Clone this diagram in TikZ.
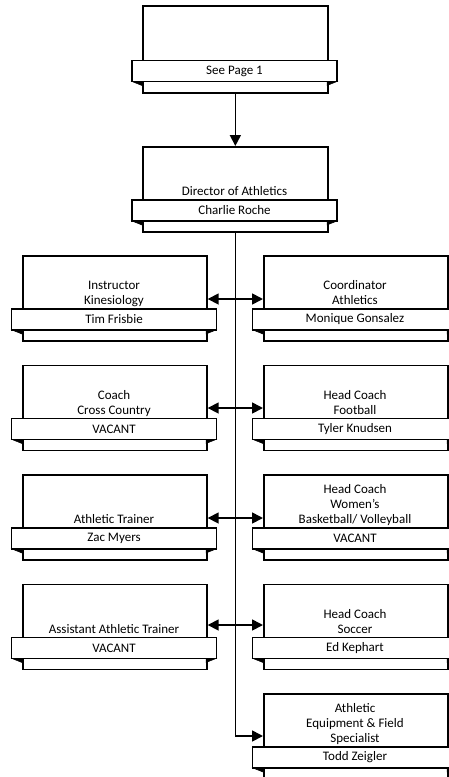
\documentclass[tikz,border=0pt]{standalone}
\usepackage{fontspec}
\setmainfont{Carlito}
\usetikzlibrary{arrows.meta}
\tikzset{
  unitbox/.style={draw=black, line width=1.7pt, fill=white, minimum width=184pt, minimum height=85pt, inner sep=0pt, anchor=north west},
  banner/.style={draw=black, line width=1.5pt, fill=white, minimum width=205pt, minimum height=21pt, inner sep=0pt, font=\fontsize{13}{15}\selectfont},
  titletext/.style={anchor=south, inner sep=0pt, text depth=3.5pt, align=center, font=\fontsize{13}{15}\selectfont},
  link/.style={line width=1.7pt, -{Triangle[length=11pt,width=11pt]}},
  duo/.style={line width=1.7pt, {Triangle[length=11pt,width=11pt]}-{Triangle[length=11pt,width=11pt]}},
  fold/.style={fill=black, draw=black, line width=0.5pt, line join=miter}
}
% name, x, y (top-left), box width, title, person
\newcommand\orgunit[6]{%
  \node[unitbox, minimum width=#4pt] (#1) at (#2,#3) {};
  \node[banner] (#1b) at (#2+#4/2,#3+64.5) {#6};
  \fill[fold] (#2-10,#3+75) -- (#2,#3+75) -- (#2,#3+79) -- cycle;
  \fill[fold] (#2+#4+10,#3+75) -- (#2+#4,#3+75) -- (#2+#4,#3+79) -- cycle;
  \node[titletext] (#1t) at (#1b.north) {#5};
}
\begin{document}
\begin{tikzpicture}[x=1pt,y=-1pt]
  \useasboundingbox (0,0) rectangle (449,777);
  \clip (0,0) rectangle (449,777);
  % top box
  \node[unitbox, minimum width=185pt, minimum height=87pt] (top) at (142,5) {};
  \node[banner] (topb) at (234.5,71) {See Page 1};
  \fill[fold] (132,81.5) -- (142,81.5) -- (142,85.5) -- cycle;
  \fill[fold] (337,81.5) -- (327,81.5) -- (327,85.5) -- cycle;
  % director
  \orgunit{dir}{142}{146}{185}{Director of Athletics}{Charlie Roche}
  % left column
  \orgunit{L1}{22}{255}{184}{Instructor\\Kinesiology}{Tim Frisbie}
  \orgunit{L2}{22}{364.5}{184}{Coach\\Cross Country}{VACANT}
  \orgunit{L3}{22}{474}{184}{Athletic Trainer}{Zac Myers}
  \orgunit{L4}{22}{583.5}{184}{Assistant Athletic Trainer}{VACANT}
  % right column
  \orgunit{R1}{263}{255}{184}{Coordinator\\Athletics}{Monique Gonsalez}
  \orgunit{R2}{263}{364.5}{184}{Head Coach\\Football}{Tyler Knudsen}
  \orgunit{R3}{263}{474}{184}{Head Coach\\Women’s\\Basketball/ Volleyball}{VACANT}
  \orgunit{R4}{263}{583.5}{184}{Head Coach\\Soccer}{Ed Kephart}
  \orgunit{R5}{263}{693}{184}{Athletic\\Equipment \& Field\\Specialist}{Todd Zeigler}
  % connectors
  \draw[link] (top.south) -- (dir.north);
  \draw[link] (dir.south) |- ([yshift=-43pt]R5.north west);
  \draw[duo] ([yshift=-44pt]L1.north east) -- ([yshift=-44pt]R1.north west);
  \draw[duo] ([yshift=-43.5pt]L2.north east) -- ([yshift=-43.5pt]R2.north west);
  \draw[duo] ([yshift=-44pt]L3.north east) -- ([yshift=-44pt]R3.north west);
  \draw[duo] ([yshift=-41.5pt]L4.north east) -- ([yshift=-41.5pt]R4.north west);
\end{tikzpicture}
\end{document}
